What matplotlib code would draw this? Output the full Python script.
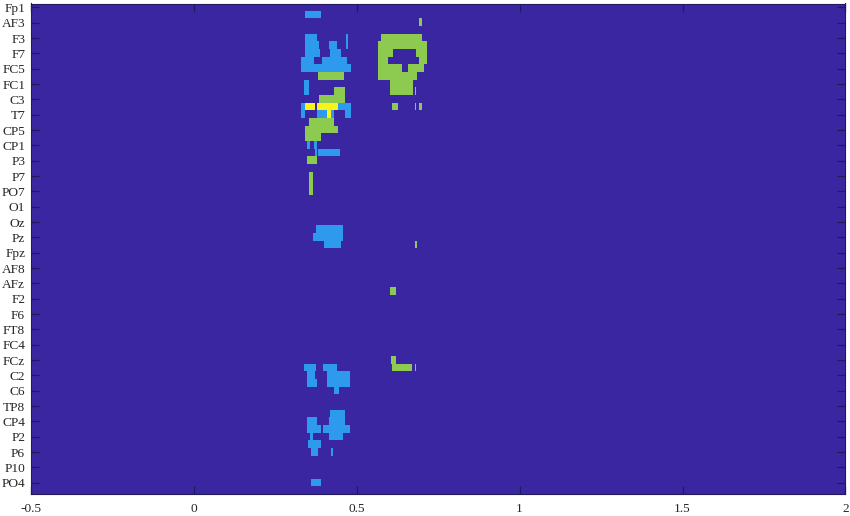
import numpy as np
import matplotlib
matplotlib.use("Agg")
import matplotlib.pyplot as plt
from matplotlib.colors import ListedColormap

channel_labels = ["Fp1","AF3","F3","F7","FC5","FC1","C3","T7","CP5","CP1","P3","P7","PO7","O1","Oz","Pz",
                  "Fpz","AF8","AFz","F2","F6","FT8","FC4","FCz","C2","C6","TP8","CP4","P2","P6","P10","PO4"]
x_ticks = [-0.5, 0, 0.5, 1, 1.5, 2]
x_tick_labels = ["-0.5", "0", "0.5", "1", "1.5", "2"]
n_channels = 64
t_start, t_end = -0.5, 2.0
dt = 0.001

# (channel row, start s, end s)
blue_runs = [
    (2,.342,.389),(5,.342,.376),(5,.465,.472),(6,.342,.383),(6,.414,.440),(6,.465,.472),
    (7,.339,.387),(7,.417,.450),(8,.327,.368),(8,.394,.470),(9,.327,.481),
    (11,.337,.353),(12,.337,.353),
    (14,.327,.339),(14,.443,.481),(15,.327,.339),(15,.376,.407),(15,.421,.430),(15,.462,.481),
    (19,.346,.356),(19,.368,.376),(20,.370,.376),(20,.380,.448),
    (30,.375,.458),(31,.366,.458),(32,.398,.452),
    (48,.337,.373),(48,.397,.438),(49,.348,.370),(49,.409,.479),(50,.346,.376),(50,.409,.479),
    (51,.430,.445),
    (54,.417,.462),(55,.346,.376),(55,.414,.462),(56,.346,.389),(56,.397,.479),
    (57,.356,.366),(57,.414,.458),(58,.350,.389),(59,.358,.380),(59,.421,.427),(63,.358,.389),
]
green_runs = [
    (3,.690,.698),(5,.575,.700),(6,.565,.714),(7,.565,.609),(7,.680,.714),
    (8,.565,.595),(8,.691,.714),(9,.565,.637),(9,.656,.706),(10,.380,.460),(10,.565,.685),
    (11,.600,.673),(12,.430,.462),(12,.600,.673),(12,.677,.682),(13,.383,.462),
    (14,.607,.627),(14,.677,.682),(14,.691,.698),
    (16,.352,.430),(17,.342,.442),(18,.342,.391),(21,.346,.378),
    (23,.353,.366),(24,.353,.366),(25,.353,.366),
    (32,.677,.683),(38,.601,.619),
    (47,.604,.619),(48,.607,.670),(48,.677,.682),
]
yellow_runs = [(14,.342,.370),(14,.376,.443),(15,.407,.419)]

times = np.arange(t_start, t_end, dt)
grid = np.zeros((n_channels, times.size))
for level, runs in ((1, blue_runs), (2, green_runs), (3, yellow_runs)):
    for row, t0, t1 in runs:
        grid[row - 1, (times >= t0) & (times < t1)] = level

cmap = ListedColormap(["#3B26A2", "#2E9AEE", "#8CCB50", "#F9F31C"])

W, H = 850, 516
fig = plt.figure(figsize=(W / 100, H / 100), dpi=100)
ax = fig.add_axes([30.7 / W, 1 - 494.3 / H, (845.5 - 30.7) / W, (494.3 - 3.5) / H])
ax.imshow(grid, cmap=cmap, vmin=0, vmax=3, aspect="auto", interpolation="nearest",
          extent=[t_start, t_end, n_channels + 0.5, 0.5])

serif = "Liberation Serif"
ax.set_xticks(x_ticks)
ax.set_xticklabels(x_tick_labels, family=serif, fontsize=9.6, color="#262626")
ax.set_yticks(np.arange(1, n_channels, 2))
ax.set_yticklabels(channel_labels, family=serif, fontsize=9.6, color="#262626")
ax.tick_params(axis="both", direction="in", top=True, right=True, length=6, width=0.9,
               color="#1E1A5C")
ax.tick_params(axis="x", pad=6)
ax.tick_params(axis="y", pad=4)
for s in ax.spines.values():
    s.set_linewidth(0.8)
    s.set_color("#1E1A5C")

fig.savefig("out.png", dpi=100)
